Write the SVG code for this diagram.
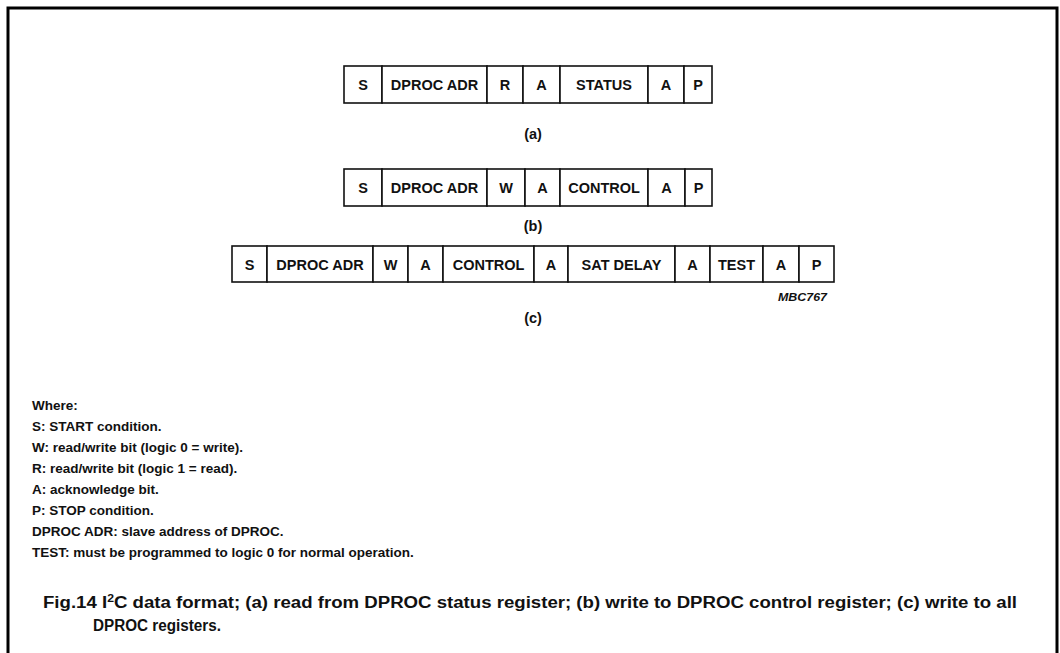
<svg xmlns="http://www.w3.org/2000/svg" width="1060" height="653" viewBox="0 0 1060 653">
<style>
.frame{fill:none;stroke:#000;stroke-width:3}
.cell{fill:#fff;stroke:#111;stroke-width:1.6}
.lbl{font-family:"Liberation Sans",Arial,sans-serif;font-weight:bold;font-size:14.5px;fill:#111;text-anchor:middle}
.sub{font-family:"Liberation Sans",Arial,sans-serif;font-weight:bold;font-size:14.5px;fill:#111;text-anchor:middle}
.code{font-family:"Liberation Sans",Arial,sans-serif;font-weight:bold;font-style:italic;font-size:10px;fill:#111}
.leg{font-family:"Liberation Sans",Arial,sans-serif;font-weight:bold;font-size:13.5px;fill:#111}
.cap{font-family:"Liberation Sans",Arial,sans-serif;font-weight:bold;font-size:16px;fill:#111}
</style>
<rect width="1060" height="653" fill="#fff"/>
<path class="frame" d="M8,653 V8 H1057 V653"/>

<g id="frame-a">
<rect class="cell" x="344" y="66" width="38" height="37"/>
<rect class="cell" x="382" y="66" width="105" height="37"/>
<rect class="cell" x="487" y="66" width="36" height="37"/>
<rect class="cell" x="523" y="66" width="37" height="37"/>
<rect class="cell" x="560" y="66" width="88" height="37"/>
<rect class="cell" x="648" y="66" width="36" height="37"/>
<rect class="cell" x="684" y="66" width="28" height="37"/>
<text class="lbl" x="363" y="90">S</text>
<text class="lbl" x="434.5" y="90">DPROC ADR</text>
<text class="lbl" x="505" y="90">R</text>
<text class="lbl" x="541.5" y="90">A</text>
<text class="lbl" x="604" y="90">STATUS</text>
<text class="lbl" x="666" y="90">A</text>
<text class="lbl" x="698" y="90">P</text>
<text class="sub" x="533" y="139">(a)</text>
</g>

<g id="frame-b">
<rect class="cell" x="344" y="169" width="38" height="37"/>
<rect class="cell" x="382" y="169" width="105" height="37"/>
<rect class="cell" x="487" y="169" width="38" height="37"/>
<rect class="cell" x="525" y="169" width="35" height="37"/>
<rect class="cell" x="560" y="169" width="88" height="37"/>
<rect class="cell" x="648" y="169" width="37" height="37"/>
<rect class="cell" x="685" y="169" width="27" height="37"/>
<text class="lbl" x="363" y="193">S</text>
<text class="lbl" x="434.5" y="193">DPROC ADR</text>
<text class="lbl" x="506" y="193">W</text>
<text class="lbl" x="542.5" y="193">A</text>
<text class="lbl" x="604" y="193">CONTROL</text>
<text class="lbl" x="666.5" y="193">A</text>
<text class="lbl" x="698.5" y="193">P</text>
<text class="sub" x="533" y="231">(b)</text>
</g>

<g id="frame-c">
<rect class="cell" x="232" y="246" width="35" height="36"/>
<rect class="cell" x="267" y="246" width="106" height="36"/>
<rect class="cell" x="373" y="246" width="35" height="36"/>
<rect class="cell" x="408" y="246" width="35" height="36"/>
<rect class="cell" x="443" y="246" width="91" height="36"/>
<rect class="cell" x="534" y="246" width="34" height="36"/>
<rect class="cell" x="568" y="246" width="107" height="36"/>
<rect class="cell" x="675" y="246" width="35" height="36"/>
<rect class="cell" x="710" y="246" width="53" height="36"/>
<rect class="cell" x="763" y="246" width="36" height="36"/>
<rect class="cell" x="799" y="246" width="35" height="36"/>
<text class="lbl" x="249.5" y="269.5">S</text>
<text class="lbl" x="320" y="269.5">DPROC ADR</text>
<text class="lbl" x="390.5" y="269.5">W</text>
<text class="lbl" x="425.5" y="269.5">A</text>
<text class="lbl" x="488.5" y="269.5">CONTROL</text>
<text class="lbl" x="551" y="269.5">A</text>
<text class="lbl" x="621.5" y="269.5">SAT DELAY</text>
<text class="lbl" x="692.5" y="269.5">A</text>
<text class="lbl" x="736.5" y="269.5">TEST</text>
<text class="lbl" x="781" y="269.5">A</text>
<text class="lbl" x="816.5" y="269.5">P</text>
<text class="code" x="778" y="301" textLength="49" lengthAdjust="spacingAndGlyphs">MBC767</text>
<text class="sub" x="533" y="323">(c)</text>
</g>

<g id="legend">
<text class="leg" x="32" y="410">Where:</text>
<text class="leg" x="32" y="431">S: START condition.</text>
<text class="leg" x="32" y="452">W: read/write bit (logic 0 = write).</text>
<text class="leg" x="32" y="473">R: read/write bit (logic 1 = read).</text>
<text class="leg" x="32" y="494">A: acknowledge bit.</text>
<text class="leg" x="32" y="515">P: STOP condition.</text>
<text class="leg" x="32" y="536">DPROC ADR: slave address of DPROC.</text>
<text class="leg" x="32" y="557">TEST: must be programmed to logic 0 for normal operation.</text>
</g>

<g id="caption">
<text class="cap" x="43" y="608" textLength="974" lengthAdjust="spacingAndGlyphs">Fig.14   I<tspan font-size="10.5" dy="-6">2</tspan><tspan dy="6">C data format; (a) read from DPROC status register; (b) write to DPROC control register; (c) write to all</tspan></text>
<text class="cap" x="93" y="631" textLength="128" lengthAdjust="spacingAndGlyphs">DPROC registers.</text>
</g>
<g id="connectors"/>
</svg>
